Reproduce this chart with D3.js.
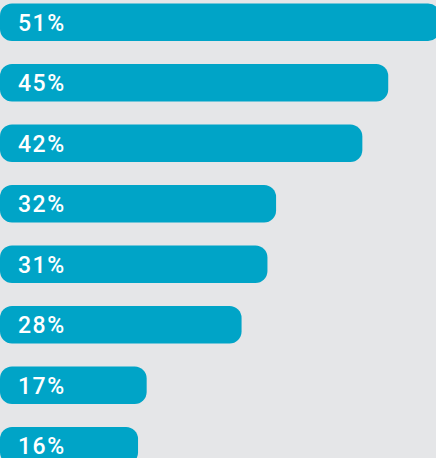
<!DOCTYPE html>
<html>
<head>
<meta charset="utf-8">
<script src="https://cdn.jsdelivr.net/npm/d3@7"></script>
<style>
  html, body { margin: 0; padding: 0; background: #e5e6e8; overflow: hidden; }
  svg { display: block; }
</style>
</head>
<body>
<svg id="chart"></svg>
<script>
// one row per answer, ordered as shown
const categories = ['r1', 'r2', 'r3', 'r4', 'r5', 'r6', 'r7', 'r8'];
const values = [51, 45, 42, 32, 31, 28, 17, 16];
const labels = ['51%', '45%', '42%', '32%', '31%', '28%', '17%', '16%'];

const svgW = 436, svgH = 458;
const svg = d3.select('#chart')
    .attr('width', svgW)
    .attr('height', svgH);

svg.append('rect')
    .attr('width', svgW)
    .attr('height', svgH)
    .attr('fill', '#e5e6e8');

const xScale = d3.scaleLinear()
    .domain([0, 51])
    .range([0, 440]);

const yScale = d3.scaleBand()
    .domain(categories)
    .range([3.5, 464.5])
    .paddingInner(0.38)
    .paddingOuter(0);

const rows = categories.map((c, i) => ({ cat: c, value: values[i], label: labels[i] }));

svg.selectAll('rect.bar')
    .data(rows)
    .join('rect')
    .attr('class', 'bar')
    .attr('x', xScale(0))
    .attr('y', d => yScale(d.cat))
    .attr('width', d => xScale(d.value) - xScale(0))
    .attr('height', yScale.bandwidth())
    .attr('rx', 12)
    .attr('fill', '#00a4c7');

svg.selectAll('text.lbl')
    .data(rows)
    .join('text')
    .attr('class', 'lbl')
    .attr('x', 18)
    .attr('y', d => yScale(d.cat) + yScale.bandwidth() / 2 + 8.7)
    .attr('fill', '#ffffff')
    .attr('font-family', 'Roboto, sans-serif')
    .attr('font-size', 23)
    .attr('font-weight', 500)
    .attr('letter-spacing', 1.5)
    .text(d => d.label);
</script>
</body>
</html>
